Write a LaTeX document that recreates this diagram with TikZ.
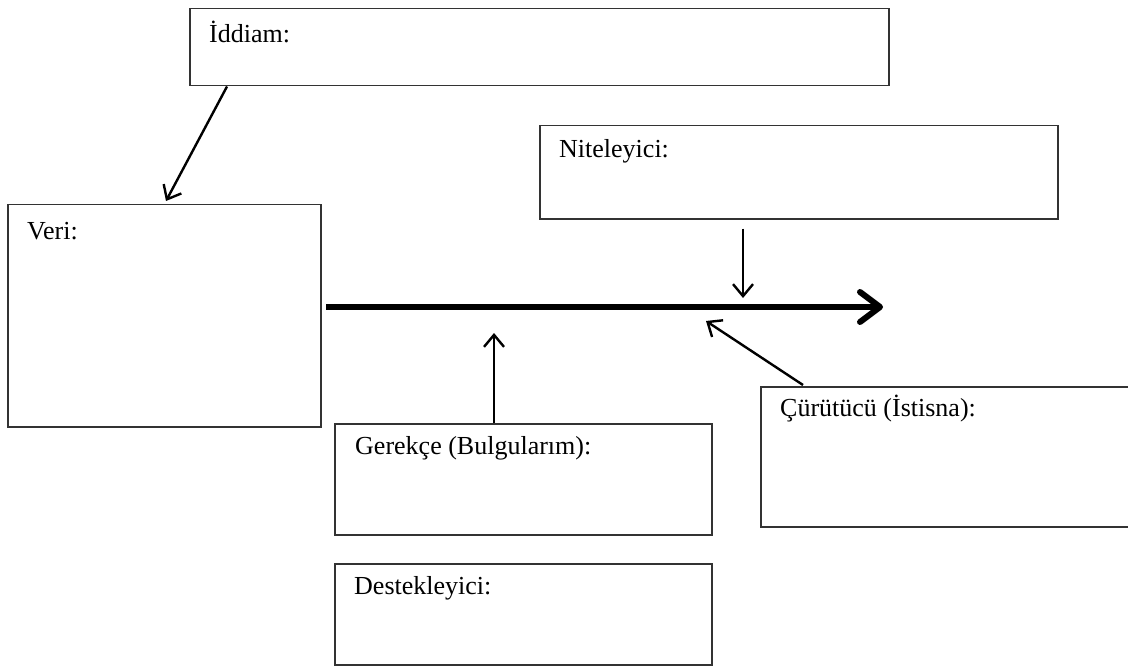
\documentclass[tikz,border=0pt]{standalone}
\usepackage{fontspec}
\setmainfont{Liberation Serif}
\usepackage{tikz}
\usetikzlibrary{positioning,arrows.meta,calc}
\tikzset{
  flowarrow/.style={-{Straight Barb[length=12pt, width=20pt]}, line width=2.4pt},
  claimarrow/.style={-{Straight Barb[length=20pt, width=30pt, round]}, line width=6pt},
  partbox/.style={draw=black!80, line width=1.5pt, anchor=north west, inner sep=0pt},
  parttext/.style={anchor=base west, inner sep=0pt, font=\fontsize{26}{30}\selectfont}
}

\begin{document}
\begin{tikzpicture}[x=1pt, y=-1pt]
      \clip (0,0) rectangle (1128,666);
      % boxes
      \node[partbox, minimum width=699pt, minimum height=77pt] (iddiam) at (189,8) {};
      \node[partbox, minimum width=518pt, minimum height=93pt] (niteleyici) at (539,125) {};
      \node[partbox, minimum width=313pt, minimum height=222pt] (veri) at (7,204) {};
      \node[partbox, minimum width=377pt, minimum height=111pt] (gerekce) at (334,423) {};
      \node[partbox, minimum width=377pt, minimum height=101pt] (destek) at (334,563) {};
      \node[partbox, minimum width=400pt, minimum height=140pt] (curutucu) at (760,386) {};
      % labels
      \node[parttext] (iddiamtxt) at ($(iddiam.north west)+(20,35)$) {İddiam:};
      \node[parttext] (niteleyicitxt) at ($(niteleyici.north west)+(20,33)$) {Niteleyici:};
      \node[parttext] (veritxt) at ($(veri.north west)+(20,36)$) {Veri:};
      \node[parttext] (gerekcetxt) at ($(gerekce.north west)+(21,31)$) {Gerekçe (Bulgularım):};
      \node[parttext] (destektxt) at ($(destek.north west)+(20,31)$) {Destekleyici:};
      \node[parttext] (curutucutxt) at ($(curutucu.north west)+(20,30)$) {Çürütücü (İstisna):};
      % claim line
      \coordinate (claimstart) at (326,307);
      \coordinate (claimend) at (883,307);
      \coordinate (qualpt) at (743,298);
      \coordinate (rebutpt) at (706,321);
      \coordinate (warrpt) at (494,333);
      \draw[claimarrow] (claimstart) -- (claimend);
      % arrows
      \draw[flowarrow] ($(iddiam.south west)+(38,0)$) -- ($(veri.north west)+(159,-3)$);
      \draw[flowarrow] (niteleyici.south -| qualpt) ++(0,9) -- (qualpt);
      \draw[flowarrow] (gerekce.north -| warrpt) -- (warrpt);
      \draw[flowarrow] ($(curutucu.north west)+(43,-1)$) -- (rebutpt);
\end{tikzpicture}
\end{document}
